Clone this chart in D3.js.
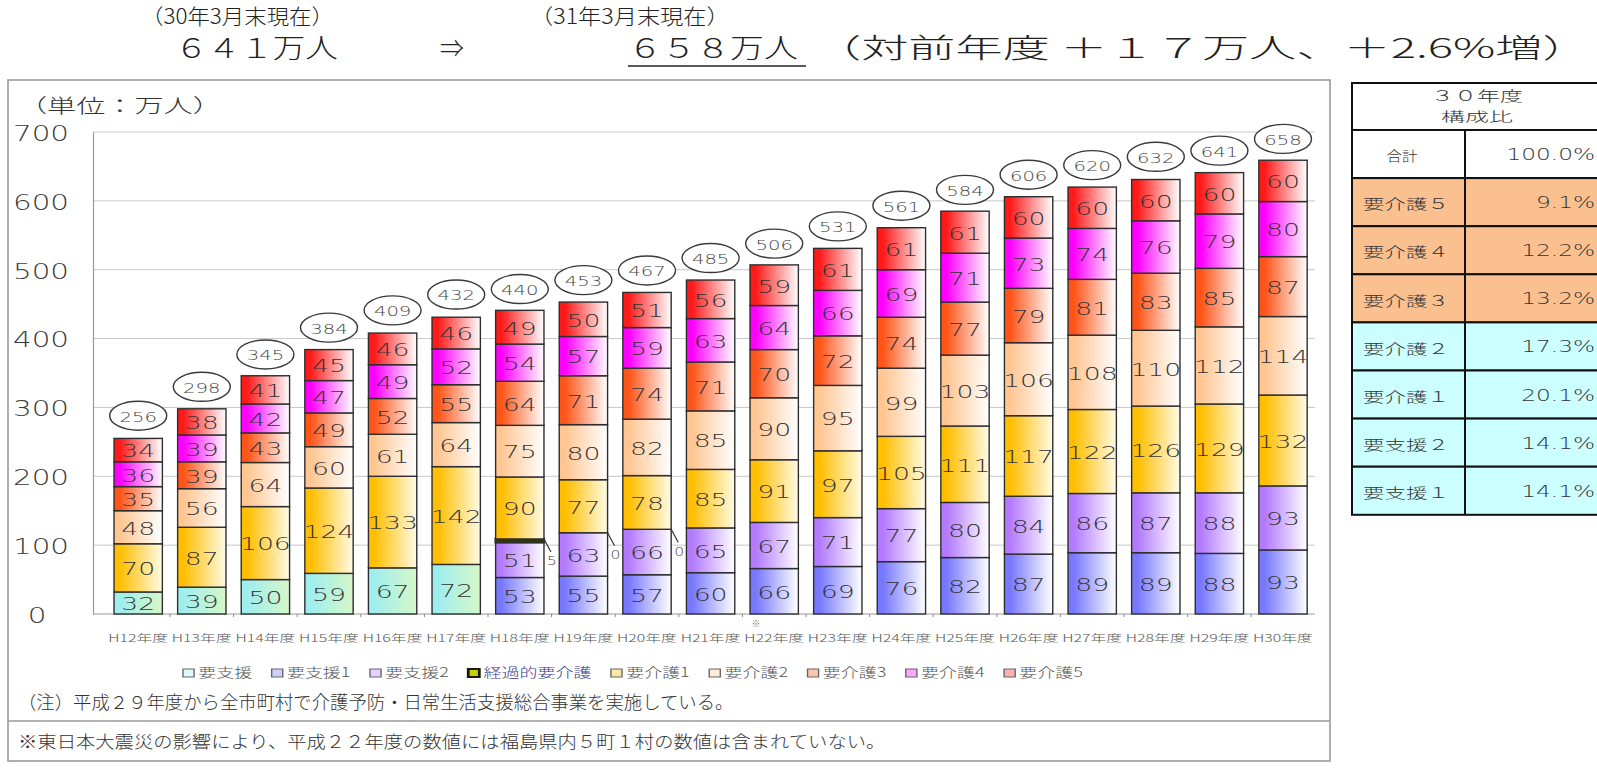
<!DOCTYPE html>
<html lang="ja">
<head>
<meta charset="utf-8">
<title>要介護（要支援）認定者数の推移</title>
<script src="https://cdn.jsdelivr.net/npm/d3@7"></script>
<style>
  body { margin: 0; background: #fff; }
  svg { display: block; }
  .num { font-family: "DejaVu Sans", "Liberation Sans", sans-serif; font-weight: 300; }
  .jp  { font-family: "Noto Sans CJK JP", "Noto Sans", sans-serif; font-weight: 300; }
</style>
</head>
<body>
<svg id="chart" width="1597" height="772"></svg>
<script>
// ---- data (万人) ----
const categories = ["H12年度","H13年度","H14年度","H15年度","H16年度","H17年度","H18年度","H19年度","H20年度","H21年度",
                    "H22年度","H23年度","H24年度","H25年度","H26年度","H27年度","H28年度","H29年度","H30年度"];
const totals   = [256,298,345,384,409,432,440,453,467,485,506,531,561,584,606,620,632,641,658];
const yoshien  = [32,39,50,59,67,72,null,null,null,null,null,null,null,null,null,null,null,null,null];
const yoshien1 = [null,null,null,null,null,null,53,55,57,60,66,69,76,82,87,89,89,88,93];
const yoshien2 = [null,null,null,null,null,null,51,63,66,65,67,71,77,80,84,86,87,88,93];
const keika    = [null,null,null,null,null,null,5,0,0,null,null,null,null,null,null,null,null,null,null];
const kaigo1   = [70,87,106,124,133,142,90,77,78,85,91,97,105,111,117,122,126,129,132];
const kaigo2   = [48,56,64,60,61,64,75,80,82,85,90,95,99,103,106,108,110,112,114];
const kaigo3   = [35,39,43,49,52,55,64,71,74,71,70,72,74,77,79,81,83,85,87];
const kaigo4   = [36,39,42,47,49,52,54,57,59,63,64,66,69,71,73,74,76,79,80];
const kaigo5   = [34,38,41,45,46,46,49,50,51,56,59,61,61,61,60,60,60,60,60];
const seriesNames  = ["要支援","要支援1","要支援2","経過的要介護","要介護1","要介護2","要介護3","要介護4","要介護5"];
const seriesValues = [yoshien, yoshien1, yoshien2, keika, kaigo1, kaigo2, kaigo3, kaigo4, kaigo5];
const yTicks = [0,100,200,300,400,500,600,700];

// composition table (平成30年度)
const tableLabels = ["合計","要介護５","要介護４","要介護３","要介護２","要介護１","要支援２","要支援１"];
const tableShares = ["100.0%","9.1%","12.2%","13.2%","17.3%","20.1%","14.1%","14.1%"];

// ---- styles ----
const seriesColor = ["#9feeee","#7878ff","#b37aff","#343a00","#ffbe00","#ffc692","#ff5418","#ff00ff","#ff1a1a"];
const seriesFade  = ["#d6f7c8","#ffffff","#ffffff","#343a00","#fffbe6","#ffffff","#ffffff","#ffffff","#ffffff"];
const tableFill   = ["#ffffff","#fac090","#fac090","#fac090","#ccffff","#ccffff","#ccffff","#ccffff"];
const ink = "#3a3a3a";

const svg = d3.select("#chart");
const defs = svg.append("defs");

// text helper: places a text at (x,y), optionally widened or fitted to a width
function put(parent, str, o) {
  const t = parent.append("text")
    .attr("class", o.cls || "num")
    .attr("font-size", o.size)
    .attr("text-anchor", o.anchor || "start")
    .attr("fill", o.fill || ink)
    .text(str);
  if (o.mid) t.attr("dominant-baseline", "central");
  if (o.spacing) t.attr("letter-spacing", o.spacing);
  let sx = o.sx || 1;
  if (o.fit) sx = o.fit / t.node().getComputedTextLength();
  t.attr("transform", `translate(${o.x},${o.y}) scale(${sx},1)`);
  return t;
}

// ---- gradients: colour on the left fading toward white on the right ----
seriesNames.forEach((n, i) => {
  const g = defs.append("linearGradient").attr("id", "g" + i)
    .attr("x1", 0).attr("x2", 1).attr("y1", 0).attr("y2", 0);
  g.append("stop").attr("offset", 0).attr("stop-color", seriesColor[i]);
  g.append("stop").attr("offset", 0.12).attr("stop-color", seriesColor[i]);
  g.append("stop").attr("offset", 1).attr("stop-color", seriesFade[i]);
});

// ---- frame ----
const frame = svg.append("g");
frame.append("rect").attr("x", 8).attr("y", 80).attr("width", 1322).attr("height", 681)
  .attr("fill", "none").attr("stroke", "#9a9a9a").attr("stroke-width", 1.6);
frame.append("line").attr("x1", 8).attr("x2", 1330).attr("y1", 721).attr("y2", 721)
  .attr("stroke", "#9a9a9a").attr("stroke-width", 1.6);

// ---- header ----
const head = svg.append("g");
put(head, "（30年3月末現在）", {cls: "jp", size: 21, x: 141, y: 24, fit: 193, fill: "#222"});
put(head, "６４１万人", {cls: "jp", size: 27, x: 175, y: 58, fit: 163, fill: "#222"});
put(head, "⇒", {cls: "jp", size: 24, x: 440, y: 57, fill: "#222"});
put(head, "（31年3月末現在）", {cls: "jp", size: 21, x: 530, y: 24, fit: 200, fill: "#222"});
put(head, "６５８万人", {cls: "jp", size: 27, x: 628, y: 58, fit: 170, fill: "#222"});
head.append("line").attr("x1", 628).attr("x2", 806).attr("y1", 66).attr("y2", 66)
  .attr("stroke", "#222").attr("stroke-width", 1.5);
put(head, "（対前年度 ＋１７万人、＋2.6%増）", {cls: "jp", size: 27, x: 814, y: 58, fit: 776, fill: "#222"});

// ---- scales ----
const x = d3.scaleBand().domain(categories).range([106.4, 1314.8]).paddingInner(0.24).paddingOuter(0.12);
const y = d3.scaleLinear().domain([0, 700]).range([614, 132]);
const plotLeft = 93, plotRight = 1315;

put(svg, "（単位：万人）", {cls: "jp", size: 19, x: 18, y: 113, fit: 204, fill: "#333"});

// gridlines
svg.append("g").selectAll("line").data(yTicks.filter(d => d > 0)).join("line")
  .attr("x1", plotLeft).attr("x2", plotRight)
  .attr("y1", d => y(d)).attr("y2", d => y(d))
  .attr("stroke", "#c8c8c8").attr("stroke-width", 1);

// y axis
const yAxis = svg.append("g").attr("transform", `translate(${plotLeft},0)`)
  .call(d3.axisLeft(y).tickValues(yTicks).tickSize(0).tickFormat(d3.format("d")));
yAxis.select(".domain").attr("stroke", "#9a9a9a").attr("stroke-width", 1.2);
yAxis.selectAll(".tick text").each(function(d) {
  const t = d3.select(this);
  t.attr("x", null).attr("dy", null).attr("class", "num").attr("font-size", 21)
    .attr("font-family", null).attr("fill", "#3a3a3a")
    .attr("text-anchor", "middle").attr("dominant-baseline", "central")
    .attr("transform", `translate(${(d === 0 ? 37 : 41) - plotLeft},1) scale(1.4,1)`);
});

// x axis
const step = x.step();
const xAxis = svg.append("g").attr("transform", `translate(0,${y(0)})`)
  .call(d3.axisBottom(x).tickSize(0).tickPadding(0));
xAxis.select(".domain").remove();
xAxis.append("line").attr("x1", plotLeft).attr("x2", plotRight).attr("y1", 0).attr("y2", 0)
  .attr("stroke", "#9a9a9a").attr("stroke-width", 1.2);
xAxis.selectAll(".tick text").each(function() {
  const t = d3.select(this);
  t.attr("y", null).attr("dy", null).attr("class", "jp").attr("font-family", null)
    .attr("font-size", 10).attr("fill", "#555").attr("text-anchor", "middle");
  const w = this.getComputedTextLength();
  t.attr("transform", `translate(0,28) scale(${60 / w},1)`);
});
// small ticks on category boundaries
xAxis.append("g").selectAll("line").data(categories.slice(0, -1)).join("line")
  .attr("x1", d => x(d) + x.bandwidth() + (step - x.bandwidth()) / 2)
  .attr("x2", d => x(d) + x.bandwidth() + (step - x.bandwidth()) / 2)
  .attr("y1", 0).attr("y2", 3).attr("stroke", "#888");
// marker under H22
put(svg, "※", {cls: "jp", size: 9, x: x("H22年度") + 6, y: 627, anchor: "middle", fill: "#777"});

// ---- stacked bars ----
const rows = categories.map((c, i) => {
  const r = {cat: c};
  seriesNames.forEach((n, s) => r[n] = seriesValues[s][i]);
  return r;
});
const stack = d3.stack().keys(seriesNames).value((d, k) => d[k] == null ? 0 : d[k]);
const layers = stack(rows);

const bars = svg.append("g");
layers.forEach((layer, s) => {
  const segs = layer.filter(d => d.data[seriesNames[s]] != null);
  const g = bars.append("g");
  g.selectAll("rect").data(segs).join("rect")
    .attr("x", d => x(d.data.cat))
    .attr("width", x.bandwidth())
    .attr("y", d => y(d[1]))
    .attr("height", d => y(d[0]) - y(d[1]))
    .attr("fill", `url(#g${s})`)
    .attr("stroke", "#2e2e2e")
    .attr("stroke-width", seriesNames[s] === "経過的要介護" ? 2.4 : 1.4);
});

// value labels inside the segments
const labels = svg.append("g");
layers.forEach((layer, s) => {
  if (seriesNames[s] === "経過的要介護") return;
  layer.filter(d => d.data[seriesNames[s]] != null).forEach(d => {
    put(labels, d.data[seriesNames[s]], {
      size: 18, sx: 1.48, anchor: "middle", mid: true, fill: "#333",
      x: x(d.data.cat) + x.bandwidth() / 2,
      y: (y(d[0]) + y(d[1])) / 2 + 1
    });
  });
});

// 経過的要介護: leader line and label to the right of the bar
const keikaLayer = layers[seriesNames.indexOf("経過的要介護")];
keikaLayer.filter(d => d.data["経過的要介護"] != null).forEach(d => {
  const bx = x(d.data.cat) + x.bandwidth();
  const by = y(d[1]);
  svg.append("line").attr("x1", bx).attr("y1", by).attr("x2", bx + 7).attr("y2", by + 13)
    .attr("stroke", "#333").attr("stroke-width", 1.2);
  put(svg, d.data["経過的要介護"], {size: 12, sx: 1.3, anchor: "middle", mid: true, fill: "#444",
    x: bx + 8, y: by + 22});
});

// totals in ovals above each bar
const tot = svg.append("g");
categories.forEach((c, i) => {
  const cx = x(c) + x.bandwidth() / 2;
  const cy = y(totals[i]) - 22;
  tot.append("ellipse").attr("cx", cx).attr("cy", cy).attr("rx", 28.5).attr("ry", 14.5)
    .attr("fill", "#fff").attr("stroke", "#3a3a3a").attr("stroke-width", 1.4);
  put(tot, totals[i], {size: 14, sx: 1.4, anchor: "middle", mid: true, fill: "#444", x: cx, y: cy + 1});
});

// ---- legend ----
const legend = svg.append("g");
let lx = 0;
seriesNames.forEach((n, s) => {
  const it = legend.append("g").attr("transform", `translate(${lx},0)`);
  it.append("rect").attr("x", 0).attr("y", -8).attr("width", 8).attr("height", 8)
    .attr("fill", s === 3 ? "#c8d000" : seriesColor[s]).attr("fill-opacity", s === 3 ? 1 : 0.35)
    .attr("stroke", s === 3 ? "#1a1a00" : "#666").attr("stroke-width", s === 3 ? 2 : 1);
  const t = it.append("text").attr("class", "jp").attr("x", 11).attr("y", 0)
    .attr("font-size", 13).attr("fill", s === 3 ? "#3a3a8a" : "#555").text(n);
  lx += 11 + t.node().getComputedTextLength() + 14;
});
const legendW = lx - 14;
const legendTarget = 900;
legend.attr("transform", `translate(${633 - legendTarget / 2},677) scale(${legendTarget / legendW},1)`);

// ---- notes ----
put(svg, "（注）平成２９年度から全市町村で介護予防・日常生活支援総合事業を実施している。",
  {cls: "jp", size: 18, x: 18, y: 709, fit: 716, fill: "#333"});
put(svg, "※東日本大震災の影響により、平成２２年度の数値には福島県内５町１村の数値は含まれていない。",
  {cls: "jp", size: 17, x: 18, y: 748, fit: 868, fill: "#333"});

// ---- composition table ----
const tb = svg.append("g");
const tX0 = 1352, tX1 = 1600, tMid = 1465, tTop = 83, tHead = 130, rowH = 48.1;
tableLabels.forEach((lab, i) => {
  const ry = tHead + i * rowH;
  tb.append("rect").attr("x", tX0).attr("y", ry).attr("width", tX1 - tX0).attr("height", rowH)
    .attr("fill", tableFill[i]).attr("stroke", "#111").attr("stroke-width", 2);
  if (i === 0) {
    put(tb, lab, {cls: "jp", size: 14, x: 1402, y: ry + rowH / 2 + 1, anchor: "middle", mid: true, fit: 31, fill: "#333"});
  } else {
    put(tb, lab, {cls: "jp", size: 14, x: 1363, y: ry + rowH / 2 + 1, mid: true, fit: 86, fill: "#333"});
  }
  put(tb, tableShares[i], {size: 15, sx: 1.55, x: 1595, y: ry + rowH / 2 + 1, anchor: "end", mid: true, fill: "#333"});
});
tb.append("line").attr("x1", tMid).attr("x2", tMid).attr("y1", tHead).attr("y2", tHead + tableLabels.length * rowH)
  .attr("stroke", "#111").attr("stroke-width", 2);
tb.append("rect").attr("x", tX0).attr("y", tTop).attr("width", tX1 - tX0).attr("height", tHead - tTop)
  .attr("fill", "#fff").attr("stroke", "#111").attr("stroke-width", 2);
put(tb, "３０年度", {cls: "jp", size: 14, x: 1477, y: 101, anchor: "middle", fit: 92, fill: "#333"});
put(tb, "構成比", {cls: "jp", size: 13, x: 1477, y: 121, anchor: "middle", fit: 72, fill: "#333"});
</script>
</body>
</html>
